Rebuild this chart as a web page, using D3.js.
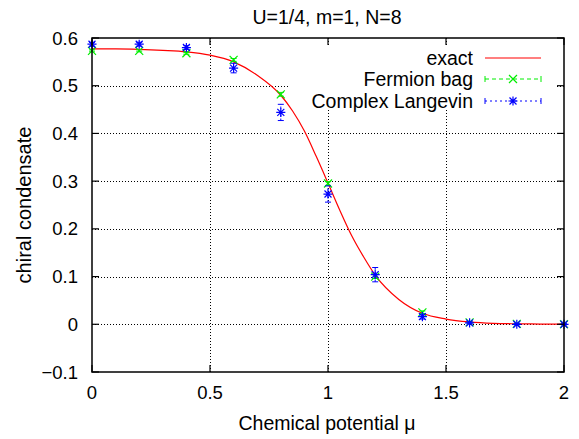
<!DOCTYPE html>
<html>
<head>
<meta charset="utf-8">
<script src="https://cdn.jsdelivr.net/npm/d3@7"></script>
<style>
  body { margin: 0; background: #fff; }
  svg { display: block; }
  text { font-family: "Liberation Sans", Arial, Helvetica, sans-serif; fill: #000; }
</style>
</head>
<body>
<div id="chart"></div>
<script>
// exact curve
const EXACT_MU = [0, 0.1, 0.2, 0.3, 0.4, 0.5, 0.6, 0.7, 0.8, 0.85, 0.9, 0.95, 1.0, 1.05, 1.1, 1.15, 1.2, 1.3, 1.4, 1.5, 1.6, 1.7, 1.8, 1.9, 2.0]
const EXACT_VAL = [0.577, 0.577, 0.576, 0.574, 0.571, 0.564, 0.550, 0.522, 0.480, 0.447, 0.405, 0.352, 0.296, 0.239, 0.186, 0.142, 0.103, 0.052, 0.023, 0.011, 0.005, 0.002, 0.001, 0.0005, 0.0002]

// simulation points
const MU = [0, 0.2, 0.4, 0.6, 0.8, 1.0, 1.2, 1.4, 1.6, 1.8, 2.0]
const BAG_VAL = [0.573, 0.573, 0.568, 0.554, 0.482, 0.295, 0.100, 0.025, 0.004, 0.001, 0.000]
const BAG_ERR = [0.002, 0.002, 0.002, 0.003, 0.004, 0.004, 0.004, 0.003, 0.001, 0.001, 0.001]
const CL_VAL = [0.587, 0.587, 0.580, 0.537, 0.444, 0.273, 0.104, 0.016, 0.003, 0.000, 0.000]
const CL_ERR = [0.004, 0.004, 0.004, 0.010, 0.017, 0.017, 0.015, 0.005, 0.002, 0.001, 0.001]

const X_TICKS = [0, 0.5, 1, 1.5, 2]
const Y_TICKS = [-0.1, 0, 0.1, 0.2, 0.3, 0.4, 0.5, 0.6]

const TITLE = 'U=1/4, m=1, N=8'
const X_LABEL = 'Chemical potential μ'
const Y_LABEL = 'chiral condensate'
const LEGEND = ['exact', 'Fermion bag', 'Complex Langevin']

const RED = '#ff0000'
const GREEN = '#00ee00'
const BLUE = '#0000ff'

const width = 579
const height = 439
const margin = {top: 38, right: 15, bottom: 67, left: 92}
const w = width - margin.left - margin.right
const h = height - margin.top - margin.bottom

const svg = d3.select('#chart').append('svg')
  .attr('width', width)
  .attr('height', height)

const x = d3.scaleLinear().domain([0, 2]).range([margin.left, margin.left + w])
const y = d3.scaleLinear().domain([-0.1, 0.6]).range([margin.top + h, margin.top])

// grid
const grid = svg.append('g')
  .attr('stroke', '#000')
  .attr('stroke-width', 1)
  .attr('stroke-dasharray', '1,2')
grid.selectAll('line.gx')
  .data(X_TICKS.filter(d => d > 0 && d < 2))
  .join('line')
  .attr('x1', d => Math.round(x(d)) + 0.5).attr('x2', d => Math.round(x(d)) + 0.5)
  .attr('y1', y(-0.1)).attr('y2', y(0.6))
grid.selectAll('line.gy')
  .data(Y_TICKS.filter(d => d > -0.1 && d < 0.6))
  .join('line')
  .attr('y1', d => Math.round(y(d)) + 0.5).attr('y2', d => Math.round(y(d)) + 0.5)
  .attr('x1', x(0)).attr('x2', x(2))

// opaque key area
svg.append('rect')
  .attr('x', 289).attr('y', 46)
  .attr('width', 268).attr('height', 63)
  .attr('fill', '#fff')

// exact curve
const exact = EXACT_MU.map((m, i) => [m, EXACT_VAL[i]])
svg.append('path')
  .datum(exact)
  .attr('fill', 'none')
  .attr('stroke', RED)
  .attr('stroke-width', 1.2)
  .attr('d', d3.line().x(d => x(d[0])).y(d => y(d[1])).curve(d3.curveMonotoneX))

const drawErr = (g, vals, errs, color, dash) => {
  const sel = g.selectAll('g.err')
    .data(MU.map((m, i) => ({m, v: vals[i], e: errs[i]})))
    .join('g')
    .attr('stroke', color)
    .attr('stroke-width', 1)
  sel.append('line')
    .attr('x1', d => x(d.m)).attr('x2', d => x(d.m))
    .attr('y1', d => y(d.v - d.e)).attr('y2', d => y(d.v + d.e))
    .attr('stroke-dasharray', dash)
  sel.append('line')
    .attr('x1', d => x(d.m) - 3).attr('x2', d => x(d.m) + 3)
    .attr('y1', d => y(d.v + d.e)).attr('y2', d => y(d.v + d.e))
  sel.append('line')
    .attr('x1', d => x(d.m) - 3).attr('x2', d => x(d.m) + 3)
    .attr('y1', d => y(d.v - d.e)).attr('y2', d => y(d.v - d.e))
}

const crossPath = (cx, cy, r) => `M${cx - r},${cy - r}L${cx + r},${cy + r}M${cx - r},${cy + r}L${cx + r},${cy - r}`
const starPath = (cx, cy, r) => crossPath(cx, cy, r) + `M${cx},${cy - r * 1.3}L${cx},${cy + r * 1.3}M${cx - r * 1.3},${cy}L${cx + r * 1.3},${cy}`

const bag = svg.append('g')
drawErr(bag, BAG_VAL, BAG_ERR, GREEN, '3,2')
bag.selectAll('path.pt')
  .data(MU.map((m, i) => [m, BAG_VAL[i]]))
  .join('path')
  .attr('d', d => crossPath(x(d[0]), y(d[1]), 4))
  .attr('stroke', GREEN)
  .attr('stroke-width', 1.2)

const cl = svg.append('g')
drawErr(cl, CL_VAL, CL_ERR, BLUE, '2,2')
cl.selectAll('path.pt')
  .data(MU.map((m, i) => [m, CL_VAL[i]]))
  .join('path')
  .attr('d', d => starPath(x(d[0]), y(d[1]), 3.5))
  .attr('stroke', BLUE)
  .attr('stroke-width', 1.2)

// border and ticks (mirrored, inward)
svg.append('rect')
  .attr('x', x(0)).attr('y', y(0.6))
  .attr('width', w).attr('height', h)
  .attr('fill', 'none')
  .attr('stroke', '#000')
  .attr('stroke-width', 1.5)

const tickLen = 7
const ticks = svg.append('g').attr('stroke', '#000').attr('stroke-width', 1.2)
Y_TICKS.forEach(t => {
  ticks.append('line').attr('x1', x(0)).attr('x2', x(0) + tickLen).attr('y1', y(t)).attr('y2', y(t))
  ticks.append('line').attr('x1', x(2)).attr('x2', x(2) - tickLen).attr('y1', y(t)).attr('y2', y(t))
})
X_TICKS.forEach(t => {
  ticks.append('line').attr('x1', x(t)).attr('x2', x(t)).attr('y1', y(-0.1)).attr('y2', y(-0.1) - tickLen)
  ticks.append('line').attr('x1', x(t)).attr('x2', x(t)).attr('y1', y(0.6)).attr('y2', y(0.6) + tickLen)
})

// tick labels
svg.append('g').selectAll('text')
  .data(Y_TICKS)
  .join('text')
  .attr('x', x(0) - 14)
  .attr('y', d => y(d) + 6.5)
  .attr('text-anchor', 'end')
  .attr('font-size', 18.5)
  .text(d => d3.format('')(+d.toFixed(1)))

svg.append('g').selectAll('text')
  .data(X_TICKS)
  .join('text')
  .attr('x', d => x(d))
  .attr('y', 399)
  .attr('text-anchor', 'middle')
  .attr('font-size', 18.5)
  .text(d => d)

// titles
svg.append('text')
  .attr('x', x(1) - 1).attr('y', 24)
  .attr('text-anchor', 'middle')
  .attr('font-size', 19.5)
  .text(TITLE)

svg.append('text')
  .attr('x', x(1) - 1).attr('y', 430)
  .attr('text-anchor', 'middle')
  .attr('font-size', 19.5)
  .text(X_LABEL)

svg.append('text')
  .attr('transform', `translate(31,${y(0.25)}) rotate(-90)`)
  .attr('text-anchor', 'middle')
  .attr('font-size', 20)
  .text(Y_LABEL)

// legend
const legRows = [58, 79, 101]
const key = svg.append('g')
LEGEND.forEach((lab, i) => {
  key.append('text')
    .attr('x', 473).attr('y', legRows[i] + 7)
    .attr('text-anchor', 'end')
    .attr('font-size', 19.5)
    .text(lab)
})
key.append('line')
  .attr('x1', 485).attr('x2', 541).attr('y1', legRows[0]).attr('y2', legRows[0])
  .attr('stroke', RED).attr('stroke-width', 1.2)
;[[GREEN, '4,3', crossPath], [BLUE, '2,3', starPath]].forEach(([c, dash, mk], j) => {
  const yy = legRows[j + 1]
  key.append('line')
    .attr('x1', 485).attr('x2', 541).attr('y1', yy).attr('y2', yy)
    .attr('stroke', c).attr('stroke-dasharray', dash)
  ;[485, 541].forEach(xx => key.append('line')
    .attr('x1', xx).attr('x2', xx).attr('y1', yy - 3).attr('y2', yy + 3)
    .attr('stroke', c))
  key.append('path')
    .attr('d', mk(513, yy, j === 0 ? 4 : 3.5))
    .attr('stroke', c).attr('stroke-width', 1.2)
})
</script>
</body>
</html>
